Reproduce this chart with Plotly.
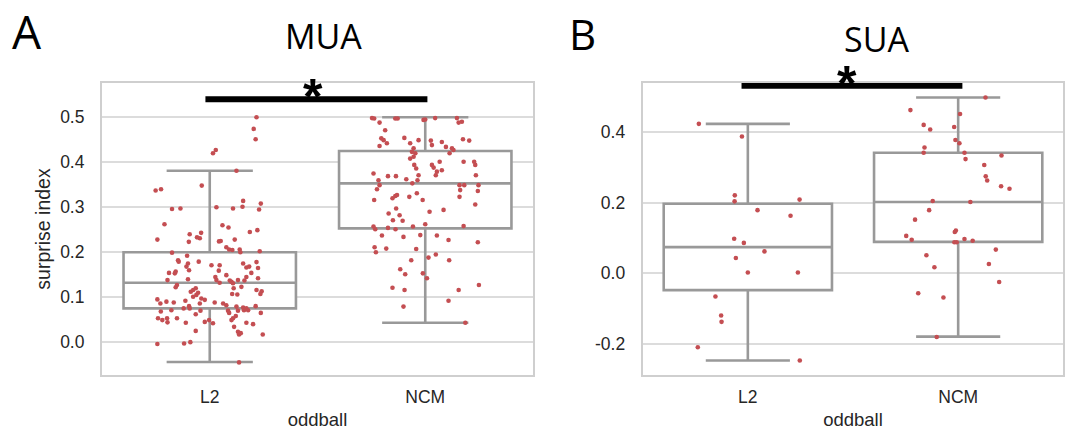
import plotly.graph_objects as go

# ---------------- data ----------------
categories = ["L2", "NCM"]

# MUA box statistics (L2, NCM)
mua_q1 = [0.074, 0.252]
mua_median = [0.131, 0.352]
mua_q3 = [0.199, 0.424]
mua_lower = [-0.045, 0.042]
mua_upper = [0.380, 0.499]

# SUA box statistics (L2, NCM)
sua_q1 = [-0.048, 0.089]
sua_median = [0.074, 0.202]
sua_q3 = [0.197, 0.342]
sua_lower = [-0.248, -0.180]
sua_upper = [0.424, 0.499]

# MUA L2 points: surprise index and horizontal jitter
mua_l2_y = [0.499, 0.473, 0.450, 0.426, 0.419, 0.380, 0.347, 0.336, 0.339, 0.295,
            0.296, 0.299, 0.296, 0.300, 0.313, 0.307, 0.294, 0.261, 0.259, 0.254,
            0.227, 0.239, 0.222, 0.232, 0.242, 0.230, 0.227, 0.244, 0.248, 0.223,
            0.224, 0.198, 0.191, 0.181, 0.178, 0.210, 0.205, 0.205, 0.199, 0.204,
            0.201, 0.178, 0.174, 0.167, 0.159, 0.153, 0.152, 0.156, 0.137, 0.170,
            0.170, 0.158, 0.144, 0.148, 0.137, 0.131, 0.136, 0.133, 0.130, 0.137,
            0.174, 0.165, 0.167, 0.153, 0.177, 0.164, 0.141, 0.144, 0.136, 0.122,
            0.121, 0.126, 0.139, 0.111, 0.115, 0.119, 0.109, 0.104, 0.096, 0.093,
            0.100, 0.085, 0.119, 0.105, 0.106, 0.115, 0.112, 0.106, 0.094, 0.085,
            0.089, 0.087, 0.091, 0.079, 0.074, 0.087, 0.085, 0.081, 0.069, 0.064,
            0.078, 0.076, 0.070, 0.074, 0.070, 0.079, 0.067, 0.070, 0.074, 0.052,
            0.048, 0.052, 0.043, 0.052, 0.042, 0.061, 0.069, 0.044, 0.048, 0.041,
            0.048, 0.052, 0.057, 0.069, 0.033, 0.022, 0.016, 0.019, 0.042, 0.039,
            0.064, 0.016, 0.024, -0.005, -0.004, -0.001, -0.046]
mua_l2_dx = [0.217, 0.204, 0.213, 0.028, 0.015, 0.124, -0.037, -0.251, -0.226, -0.175,
             -0.136, 0.031, 0.108, 0.152, 0.155, 0.237, 0.229, -0.210, 0.059, 0.087,
             -0.243, -0.093, -0.097, -0.059, -0.040, -0.046, 0.116, 0.186, 0.221, 0.043,
             0.051, -0.175, -0.105, -0.147, -0.144, 0.077, 0.090, 0.139, 0.142, 0.105,
             0.232, -0.051, -0.101, -0.108, -0.096, -0.189, -0.162, -0.158, -0.196, 0.008,
             0.046, 0.042, 0.026, 0.077, 0.031, 0.046, 0.093, 0.101, 0.108, 0.131,
             0.155, 0.170, 0.183, 0.193, 0.217, 0.224, 0.224, 0.170, 0.161, 0.147,
             -0.158, -0.152, -0.101, -0.088, -0.077, -0.065, -0.054, -0.062, -0.039, -0.023,
             -0.077, -0.046, 0.111, 0.128, 0.104, 0.217, 0.241, 0.235, -0.243, -0.229,
             -0.201, -0.167, -0.113, -0.096, -0.093, 0.023, 0.062, 0.077, 0.085, 0.090,
             0.124, 0.155, 0.159, 0.170, 0.178, 0.213, -0.227, -0.178, -0.121, -0.240,
             -0.220, -0.198, -0.196, -0.152, -0.111, -0.065, -0.043, -0.023, -0.003, 0.015,
             0.101, 0.108, 0.121, 0.131, 0.113, 0.131, 0.136, 0.144, 0.170, 0.201,
             0.237, 0.246, -0.065, -0.243, -0.119, -0.090, 0.136]

# MUA NCM points
mua_ncm_y = [0.497, 0.496, 0.487, 0.496, 0.496, 0.493, 0.494, 0.497, 0.497, 0.487,
             0.489, 0.470, 0.452, 0.448, 0.441, 0.435, 0.453, 0.441, 0.448, 0.447,
             0.437, 0.444, 0.433, 0.430, 0.426, 0.450, 0.447, 0.430, 0.422, 0.419,
             0.411, 0.407, 0.400, 0.419, 0.400, 0.400, 0.393, 0.393, 0.387, 0.378,
             0.370, 0.381, 0.393, 0.385, 0.370, 0.374, 0.359, 0.368, 0.368, 0.361,
             0.352, 0.359, 0.339, 0.348, 0.315, 0.319, 0.324, 0.326, 0.322, 0.330,
             0.315, 0.348, 0.348, 0.337, 0.322, 0.370, 0.348, 0.335, 0.305, 0.285,
             0.296, 0.281, 0.269, 0.270, 0.289, 0.293, 0.256, 0.250, 0.253, 0.250,
             0.233, 0.256, 0.261, 0.237, 0.236, 0.226, 0.257, 0.221, 0.236, 0.210,
             0.199, 0.207, 0.206, 0.181, 0.187, 0.194, 0.181, 0.161, 0.150, 0.152,
             0.141, 0.120, 0.115, 0.115, 0.126, 0.078, 0.091, 0.042]
mua_ncm_dx = [-0.247, -0.237, -0.212, -0.139, -0.128, -0.008, 0.000, 0.046, 0.147, 0.155,
              0.170, -0.186, -0.204, -0.193, -0.178, -0.212, -0.097, -0.070, -0.031, 0.026,
              0.031, 0.077, 0.096, 0.124, 0.131, 0.175, 0.204, -0.054, -0.062, -0.046,
              -0.054, -0.070, 0.067, 0.113, 0.178, 0.227, 0.232, 0.031, 0.039, 0.054,
              0.049, 0.077, -0.051, -0.042, -0.031, -0.240, -0.217, -0.173, -0.136, -0.088,
              -0.060, -0.036, -0.224, -0.212, -0.237, -0.152, -0.139, -0.131, -0.074, -0.039,
              -0.012, 0.159, 0.181, 0.162, 0.159, 0.235, 0.247, 0.244, 0.232, -0.170,
              -0.135, -0.119, -0.105, -0.150, 0.020, 0.085, -0.240, -0.232, -0.173, -0.138,
              -0.101, -0.057, 0.000, -0.023, 0.054, 0.108, 0.178, 0.244, -0.201, -0.235,
              -0.229, -0.181, -0.042, -0.065, 0.015, 0.049, 0.111, -0.116, -0.093, -0.011,
              0.008, -0.152, -0.096, 0.155, 0.249, -0.101, 0.108, 0.186]

# SUA L2 points
sua_l2_y = [0.424, 0.388, 0.221, 0.204, 0.179, 0.209, 0.163, 0.098, 0.086, 0.062,
            0.043, 0.002, 0.002, -0.066, -0.120, -0.138, -0.210, -0.248]
sua_l2_dx = [-0.233, -0.028, -0.062, -0.063, 0.046, 0.246, 0.203, -0.065, -0.019, 0.079,
             -0.057, 0.000, 0.238, -0.154, -0.127, -0.125, -0.238, 0.247]

# SUA NCM points
sua_ncm_y = [0.499, 0.463, 0.452, 0.421, 0.408, 0.415, 0.378, 0.369, 0.357, 0.342,
             0.342, 0.334, 0.324, 0.307, 0.275, 0.263, 0.247, 0.240, 0.205, 0.202,
             0.179, 0.152, 0.121, 0.117, 0.106, 0.095, 0.088, 0.088, 0.097, 0.092,
             0.067, 0.051, 0.017, 0.026, -0.025, -0.057, -0.069, -0.181]
sua_ncm_dx = [0.130, -0.227, 0.009, -0.164, -0.133, -0.019, -0.013, 0.006, -0.160, -0.164,
              0.030, 0.206, 0.035, 0.124, 0.131, 0.138, 0.204, 0.244, -0.121, 0.058,
              -0.138, -0.205, -0.011, -0.016, -0.247, -0.221, -0.018, -0.007, 0.030, 0.069,
              0.179, -0.151, -0.113, 0.146, 0.195, -0.190, -0.070, -0.102]

# significance bars (y level in data units)
mua_sig_y = 0.539
sua_sig_y = 0.532

mua_ticks = [0.0, 0.1, 0.2, 0.3, 0.4, 0.5]
mua_ticktext = ["0.0", "0.1", "0.2", "0.3", "0.4", "0.5"]
sua_ticks = [-0.2, 0.0, 0.2, 0.4]
sua_ticktext = ["-0.2", "0.0", "0.2", "0.4"]

# ---------------- styling ----------------
BOX_GRAY = "#999999"
DOT_RED = "#c44e52"
FRAME = "#cfcfcf"
GRID = "#dcdcdc"
TXT = "#262626"
SANS = "Liberation Sans, Arial, sans-serif"
TICK_FONT = dict(family=SANS, size=17.5, color=TXT)

fig = go.Figure()

def add_panel(q1, med, q3, lo, hi, pts, xa, ya):
    fig.add_trace(go.Box(
        x=[0, 1], q1=q1, median=med, q3=q3, lowerfence=lo, upperfence=hi,
        width=0.8, whiskerwidth=0.5, fillcolor="white",
        line=dict(color=BOX_GRAY, width=2.6), boxpoints=False,
        xaxis=xa, yaxis=ya, showlegend=False, hoverinfo="skip"))
    for i, (ys, dxs) in enumerate(pts):
        fig.add_trace(go.Scatter(
            x=[i + d for d in dxs], y=ys, mode="markers",
            marker=dict(color=DOT_RED, size=4.6),
            xaxis=xa, yaxis=ya, showlegend=False, hoverinfo="skip"))

add_panel(mua_q1, mua_median, mua_q3, mua_lower, mua_upper,
          [(mua_l2_y, mua_l2_dx), (mua_ncm_y, mua_ncm_dx)], "x", "y")
add_panel(sua_q1, sua_median, sua_q3, sua_lower, sua_upper,
          [(sua_l2_y, sua_l2_dx), (sua_ncm_y, sua_ncm_dx)], "x2", "y2")

xcommon = dict(range=[-0.5, 1.5], tickvals=[0, 1], ticktext=categories,
               showgrid=False, zeroline=False, showline=True, mirror=True,
               linecolor=FRAME, linewidth=2, ticks="", tickfont=TICK_FONT,
               ticklabelstandoff=5,
               title=dict(text="oddball", font=dict(family=SANS, size=18.5, color=TXT), standoff=7))
ycommon = dict(showgrid=True, gridcolor=GRID, gridwidth=1.5, zeroline=False,
               showline=True, mirror=True, linecolor=FRAME, linewidth=2,
               ticks="", tickfont=TICK_FONT, ticklabelstandoff=12)

fig.update_layout(
    width=1069, height=435, margin=dict(l=0, r=0, t=0, b=0),
    paper_bgcolor="white", plot_bgcolor="white", showlegend=False,
    xaxis=dict(domain=[0.0954, 0.4986], anchor="y", **xcommon),
    yaxis=dict(domain=[0.1379, 0.8092], anchor="x", range=[-0.074, 0.575],
               tickvals=mua_ticks, ticktext=mua_ticktext,
               title=dict(text="surprise index", font=dict(family=SANS, size=19.5, color=TXT), standoff=4),
               **ycommon),
    xaxis2=dict(domain=[0.6012, 0.9947], anchor="y2", **xcommon),
    yaxis2=dict(domain=[0.1379, 0.8092], anchor="x2", range=[-0.289, 0.540],
                tickvals=sua_ticks, ticktext=sua_ticktext, **ycommon),
)

# significance bars
fig.add_shape(type="line", xref="x", yref="y", x0=-0.02, x1=1.01, y0=mua_sig_y, y1=mua_sig_y,
              line=dict(color="black", width=6), layer="above")
fig.add_shape(type="line", xref="x2", yref="y2", x0=-0.03, x1=1.02, y0=sua_sig_y, y1=sua_sig_y,
              line=dict(color="black", width=6), layer="above")

STAR_FONT = dict(family=SANS, size=50, color="black")
fig.add_annotation(text="<b>*</b>", xref="x", yref="paper", x=0.48, y=1 - 97 / 435,
                   yanchor="middle", showarrow=False, font=STAR_FONT)
fig.add_annotation(text="<b>*</b>", xref="x2", yref="paper", x=0.47, y=1 - 84 / 435,
                   yanchor="middle", showarrow=False, font=STAR_FONT)

TITLE_FONT = dict(family="Open Sans, Noto Sans, sans-serif", color="black")
fig.add_annotation(text="MUA", xref="paper", yref="paper", x=323 / 1069, y=1 - 36 / 435,
                   xanchor="center", yanchor="middle", showarrow=False, font=dict(size=34, **TITLE_FONT))
fig.add_annotation(text="SUA", xref="paper", yref="paper", x=876 / 1069, y=1 - 39 / 435,
                   xanchor="center", yanchor="middle", showarrow=False, font=dict(size=34, **TITLE_FONT))
fig.add_annotation(text="A", xref="paper", yref="paper", x=27 / 1069, y=1 - 31 / 435,
                   xanchor="center", yanchor="middle", showarrow=False, font=dict(size=46, **TITLE_FONT))
fig.add_annotation(text="B", xref="paper", yref="paper", x=582 / 1069, y=1 - 34 / 435,
                   xanchor="center", yanchor="middle", showarrow=False, font=dict(size=42, **TITLE_FONT))

fig.write_html("out.html")
